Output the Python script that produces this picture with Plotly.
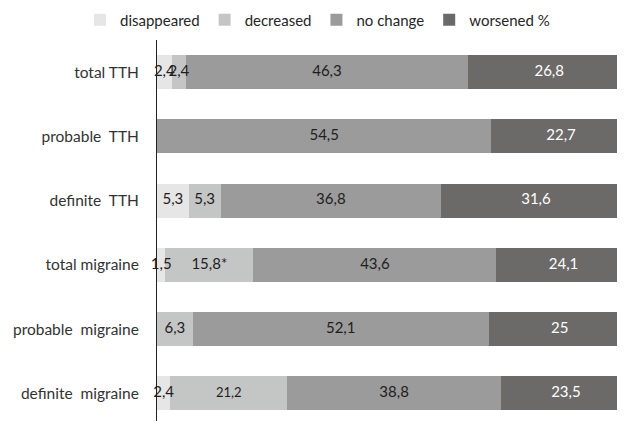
import plotly.graph_objects as go

categories = ["total TTH", "probable  TTH", "definite  TTH",
              "total migraine", "probable  migraine", "definite  migraine"]
series_names = ["disappeared", "decreased", "no change", "worsened %"]
disappeared = [2.4, 0, 5.3, 1.5, 0, 2.4]
decreased = [2.4, 0, 5.3, 15.8, 6.3, 21.2]
no_change = [46.3, 54.5, 36.8, 43.6, 52.1, 38.8]
worsened = [26.8, 22.7, 31.6, 24.1, 25, 23.5]
significant_decrease = [False, False, False, True, False, False]

colors = ["#e6e6e6", "#c4c6c5", "#9a9b9a", "#6b6a68"]
text_colors = ["#1e1e1e", "#1e1e1e", "#1e1e1e", "#ffffff"]
FONT = "Lato, 'Open Sans', sans-serif"

# the page body has an 8px default margin; figure is sized to end at 625x421
W, H, OFF = 617, 413, 8
PLOT_LEFT = 157 - OFF
PLOT_TOP = 40 - OFF
PLOT_W = W - PLOT_LEFT
PLOT_H = H - PLOT_TOP


def fmt(v, star=False):
    if v == 0:
        return ""
    s = ("%g" % v).replace(".", ",")
    return s + ("*" if star else "")


series = [disappeared, decreased, no_change, worsened]
totals = [sum(vals) for vals in zip(*series)]

fig = go.Figure()
for i, (name, vals) in enumerate(zip(series_names, series)):
    fig.add_trace(go.Bar(
        y=categories, x=vals, name=name, orientation="h",
        marker=dict(color=colors[i], line=dict(width=0)),
        textposition="none", hoverinfo="skip",
    ))

# value labels drawn on top of all bars (centre of each normalised segment)
cum = [0.0] * len(categories)
for i, vals in enumerate(series):
    if i == 1:
        labels = [fmt(v, s) for v, s in zip(vals, significant_decrease)]
    else:
        labels = [fmt(v) for v in vals]
    mids = []
    for j, v in enumerate(vals):
        mids.append((cum[j] + v / 2) / totals[j] * 100)
        cum[j] += v
    sizes = [15] * len(vals)
    if i == 1:
        sizes[5] = 13
    fig.add_trace(go.Scatter(
        x=mids, y=categories, mode="text", text=labels,
        textposition="middle center", cliponaxis=False,
        textfont=dict(family=FONT, size=sizes, color=text_colors[i]),
        showlegend=False, hoverinfo="skip",
    ))

fig.update_layout(
    barmode="stack", barnorm="percent", bargap=0.47,
    width=W, height=H,
    margin=dict(l=PLOT_LEFT, r=0, t=PLOT_TOP, b=0, autoexpand=False),
    paper_bgcolor="white", plot_bgcolor="white",
    font=dict(family=FONT, size=14, color="#333333"),
    showlegend=True,
    legend=dict(orientation="h", xref="paper",
                x=(80 - OFF - PLOT_LEFT) / PLOT_W, xanchor="left",
                yref="paper", y=1 + (40 - 20) / PLOT_H, yanchor="middle",
                font=dict(family=FONT, size=15, color="#262626"),
                itemwidth=30, traceorder="normal"),
    xaxis=dict(range=[0, 98.8], visible=False, fixedrange=True),
    yaxis=dict(range=[5.43, -0.5], showline=True, linecolor="#222222",
               linewidth=1, showgrid=False, zeroline=False, ticks="",
               ticklabelstandoff=14,
               tickfont=dict(family=FONT, size=15.5, color="#333333")),
)

fig.write_html("out.html")
